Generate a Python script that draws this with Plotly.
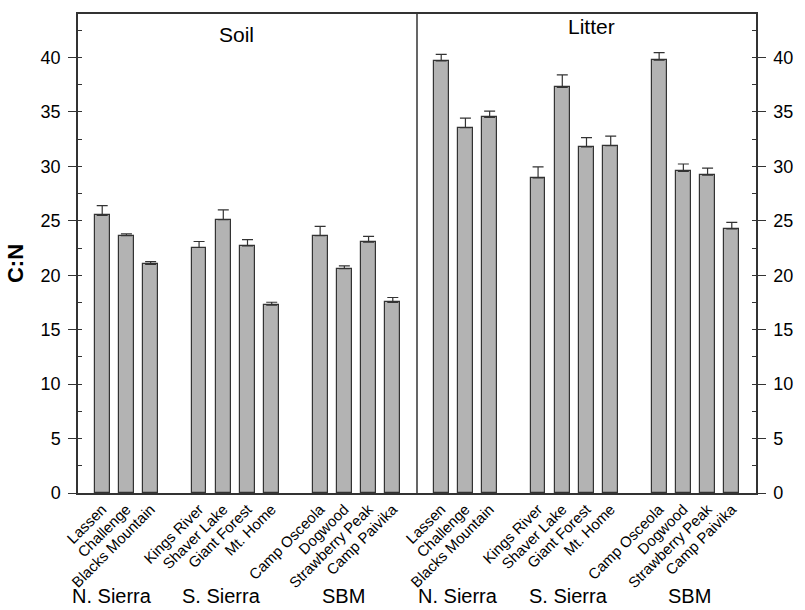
import plotly.graph_objects as go

sites = ["Lassen", "Challenge", "Blacks Mountain",
         "Kings River", "Shaver Lake", "Giant Forest", "Mt. Home",
         "Camp Osceola", "Dogwood", "Strawberry Peak", "Camp Paivika"]
regions = ["N. Sierra", "S. Sierra", "SBM"]
soil_cn = [25.5, 23.65, 21.0, 22.55, 25.1, 22.7, 17.25, 23.65, 20.6, 23.05, 17.5]
soil_se = [0.9, 0.15, 0.25, 0.55, 0.9, 0.58, 0.27, 0.85, 0.27, 0.52, 0.46]
litter_cn = [39.7, 33.55, 34.5, 28.95, 37.25, 31.8, 31.9, 39.75, 29.55, 29.2, 24.25]
litter_se = [0.6, 0.88, 0.58, 1.0, 1.15, 0.85, 0.88, 0.7, 0.67, 0.64, 0.61]
y_ticks = [0, 5, 10, 15, 20, 25, 30, 35, 40]

# slot positions: one empty slot between regions, panels split at 13
soil_pos = [0, 1, 2, 4, 5, 6, 7, 9, 10, 11, 12]
litter_pos = [p + 14 for p in soil_pos]

bar_style = dict(marker=dict(color="#b3b3b3", line=dict(color="#333333", width=1.2)),
                 width=0.61, showlegend=False)

fig = go.Figure()
fig.add_trace(go.Bar(x=soil_pos, y=soil_cn,
                     error_y=dict(type="data", symmetric=False, array=soil_se,
                                  arrayminus=[0] * len(soil_se), color="#333333",
                                  thickness=1.2, width=5.5),
                     **bar_style))
fig.add_trace(go.Bar(x=litter_pos, y=litter_cn,
                     error_y=dict(type="data", symmetric=False, array=litter_se,
                                  arrayminus=[0] * len(litter_se), color="#333333",
                                  thickness=1.2, width=5.5),
                     **bar_style))
# invisible trace to activate right-hand axis
fig.add_trace(go.Scatter(x=[0], y=[0], yaxis="y2", mode="markers",
                         marker=dict(opacity=0), showlegend=False, hoverinfo="skip"))

font = "Liberation Sans, Arial, sans-serif"
axis_col = "#333333"

yaxis_common = dict(range=[0, 44], tickmode="array", tickvals=y_ticks,
                    ticks="outside", ticklen=8, tickcolor=axis_col, tickwidth=1.2,
                    tickfont=dict(size=18), ticklabelstandoff=4,
                    minor=dict(ticks="inside", ticklen=4, tickcolor=axis_col,
                               dtick=2.5, tick0=0, showgrid=False),
                    showline=True, linecolor=axis_col, linewidth=1.5,
                    showgrid=False, zeroline=False)

fig.update_layout(
    width=805, height=610,
    margin=dict(l=78, r=39, t=12, b=117),
    plot_bgcolor="white", paper_bgcolor="white",
    font=dict(family=font, color="black"),
    bargap=0,
    xaxis=dict(range=[-1, 27], tickmode="array",
               tickvals=soil_pos + litter_pos, ticktext=sites + sites,
               tickangle=-45, tickfont=dict(size=15), ticks="",
               showline=True, linecolor=axis_col, linewidth=1.5, mirror=True,
               showgrid=False, zeroline=False, fixedrange=True),
    yaxis=yaxis_common,
    yaxis2=dict(overlaying="y", side="right", anchor="x", **yaxis_common),
)

# panel divider
fig.add_shape(type="line", xref="x", yref="paper", x0=13, x1=13, y0=0, y1=1,
              line=dict(color="black", width=1.2))

# panel titles
fig.add_annotation(x=5.53, y=0.958, xref="x", yref="paper", text="Soil",
                   showarrow=False, font=dict(size=21), yanchor="middle")
fig.add_annotation(x=20.19, y=0.973, xref="x", yref="paper", text="Litter",
                   showarrow=False, font=dict(size=21), yanchor="middle")

# region labels
region_x = [0.39, 4.93, 9.96, 14.68, 19.27, 24.27]
for rx, name in zip(region_x, regions + regions):
    fig.add_annotation(x=rx, y=-0.214, xref="x", yref="paper", text=name,
                       showarrow=False, font=dict(size=20), yanchor="middle")

# y-axis title
fig.add_annotation(x=-0.093, y=0.48, xref="paper", yref="paper", text="<b>C:N</b>",
                   showarrow=False, textangle=-90, font=dict(size=22),
                   xanchor="center", yanchor="middle")

fig.write_html("out.html")
